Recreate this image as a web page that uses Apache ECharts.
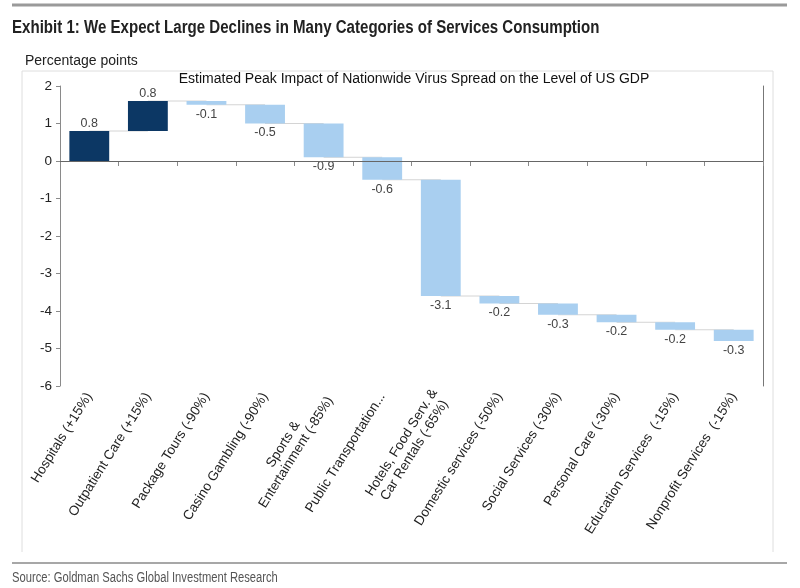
<!DOCTYPE html>
<html>
<head>
<meta charset="utf-8">
<script src="https://cdn.jsdelivr.net/npm/echarts@6/dist/echarts.min.js"></script>
<style>
html,body{margin:0;padding:0;background:#fff;}
#chart{width:800px;height:588px;}
</style>
</head>
<body>
<div id="chart"></div>
<script>
const categories = [
  'Hospitals (+15%)',
  'Outpatient Care (+15%)',
  'Package Tours (-90%)',
  'Casino Gambling (-90%)',
  'Sports &\nEntertainment (-85%)',
  'Public Transportation...',
  'Hotels, Food Serv. &\nCar Rentals (-65%)',
  'Domestic services (-50%)',
  'Social Services (-30%)',
  'Personal Care (-30%)',
  'Education Services  (-15%)',
  'Nonprofit Services  (-15%)'
];
const values = [0.8, 0.8, -0.1, -0.5, -0.9, -0.6, -3.1, -0.2, -0.3, -0.2, -0.2, -0.3];
const yMin = -6, yMax = 2, yInterval = 1;

const titleText = 'Exhibit 1: We Expect Large Declines in Many Categories of Services Consumption';
const subtitleText = 'Estimated Peak Impact of Nationwide Virus Spread on the Level of US GDP';
const unitText = 'Percentage points';
const sourceText = 'Source: Goldman Sachs Global Investment Research';

const DARK = '#0c3764';
const LIGHT = '#a9cff0';
const FONT = '"Liberation Sans", Arial, sans-serif';

// waterfall start/end levels
const starts = [], ends = [];
let acc = 0;
values.forEach(v => { starts.push(acc); acc = Math.round((acc + v) * 10) / 10; ends.push(acc); });

const barData = values.map((v, i) => [i, starts[i], ends[i], v]);
const connData = values.slice(0, -1).map((v, i) => [i, ends[i]]);

const chart = echarts.init(document.getElementById('chart'), null, {renderer: 'canvas'});
chart.setOption({
  animation: false,
  backgroundColor: '#fff',
  textStyle: {fontFamily: FONT},
  grid: {left: 60, right: 37, top: 86, bottom: 202, containLabel: false},
  xAxis: {
    type: 'category',
    data: categories,
    boundaryGap: true,
    axisLine: {lineStyle: {color: '#8a8a8a', width: 1}},
    axisTick: {show: true, interval: 0, length: 5, lineStyle: {color: '#8a8a8a'}},
    axisLabel: {
      interval: 0, rotate: 58, margin: 8,
      color: '#222', fontSize: 13.5, fontFamily: FONT,
      formatter: v => v.split('\n').map(l => '{c|' + l + '}').join('\n'),
      rich: {c: {align: 'center', fontSize: 13.5, color: '#222', fontFamily: FONT, lineHeight: 15}}
    },
    splitLine: {show: false}
  },
  yAxis: [{
    type: 'value', min: yMin, max: yMax, interval: yInterval,
    axisLine: {show: true, lineStyle: {color: '#8a8a8a'}},
    axisTick: {show: true, inside: false, length: 4, lineStyle: {color: '#8a8a8a'}},
    axisLabel: {color: '#222', fontSize: 13.5, fontFamily: FONT, margin: 8},
    splitLine: {show: false}
  }, {
    type: 'value', min: yMin, max: yMax, interval: yInterval, position: 'right',
    axisLine: {show: true, lineStyle: {color: '#777'}},
    axisTick: {show: false}, axisLabel: {show: false}, splitLine: {show: false}
  }],
  series: [{
    type: 'custom',
    name: 'connectors',
    z: 1,
    data: connData,
    renderItem: (params, api) => {
      const a = api.coord([api.value(0), api.value(1)]);
      const b = api.coord([api.value(0) + 1, api.value(1)]);
      return {type: 'line', shape: {x1: a[0], y1: a[1], x2: b[0], y2: b[1]},
              style: {stroke: '#d4d4d4', lineWidth: 1}};
    },
    markLine: {
      silent: true, symbol: 'none', label: {show: false},
      lineStyle: {color: '#666', width: 1, type: 'solid'},
      data: [{yAxis: 0}]
    }
  }, {
    type: 'custom',
    name: 'bars',
    z: 3,
    data: barData,
    renderItem: (params, api) => {
      const i = api.value(0), s = api.value(1), e = api.value(2), v = api.value(3);
      const ps = api.coord([i, s]);
      const pe = api.coord([i, e]);
      const w = api.size([1, 0])[0] * 0.68;
      const top = Math.min(ps[1], pe[1]);
      const bottom = Math.max(ps[1], pe[1]);
      const pos = v > 0;
      return {
        type: 'group',
        children: [{
          type: 'rect',
          shape: {x: ps[0] - w / 2, y: top, width: w, height: bottom - top},
          style: {fill: pos ? DARK : LIGHT}
        }, {
          type: 'text',
          x: ps[0], y: pos ? top - 1 : bottom + 3,
          style: {
            text: v.toFixed(1), fill: '#444', fontSize: 12.5, fontFamily: FONT,
            align: 'center', verticalAlign: pos ? 'bottom' : 'top'
          }
        }]
      };
    }
  }],
  graphic: [
    {type: 'line', shape: {x1: 12, y1: 5, x2: 787, y2: 5}, style: {stroke: '#9a9a9a', lineWidth: 3}},
    {type: 'text', x: 12, y: 28, scaleX: 0.837, style: {text: titleText, fill: '#222', font: 'bold 18px ' + FONT, verticalAlign: 'middle'}},
    {type: 'text', x: 25, y: 61, style: {text: unitText, fill: '#222', font: '14px ' + FONT, verticalAlign: 'middle'}},
    {type: 'polyline', shape: {points: [[22, 552], [22, 71], [773, 71], [773, 552]]}, style: {stroke: '#dedede', lineWidth: 1, fill: null}},
    {type: 'text', x: 414, y: 79, style: {text: subtitleText, fill: '#111', font: '14px ' + FONT, align: 'center', verticalAlign: 'middle'}},
    {type: 'line', shape: {x1: 12, y1: 563, x2: 787, y2: 563}, style: {stroke: '#8a8a8a', lineWidth: 1.5}},
    {type: 'text', x: 12, y: 578, scaleX: 0.8, style: {text: sourceText, fill: '#555', font: '14px ' + FONT, verticalAlign: 'middle'}}
  ]
});
</script>
</body>
</html>
